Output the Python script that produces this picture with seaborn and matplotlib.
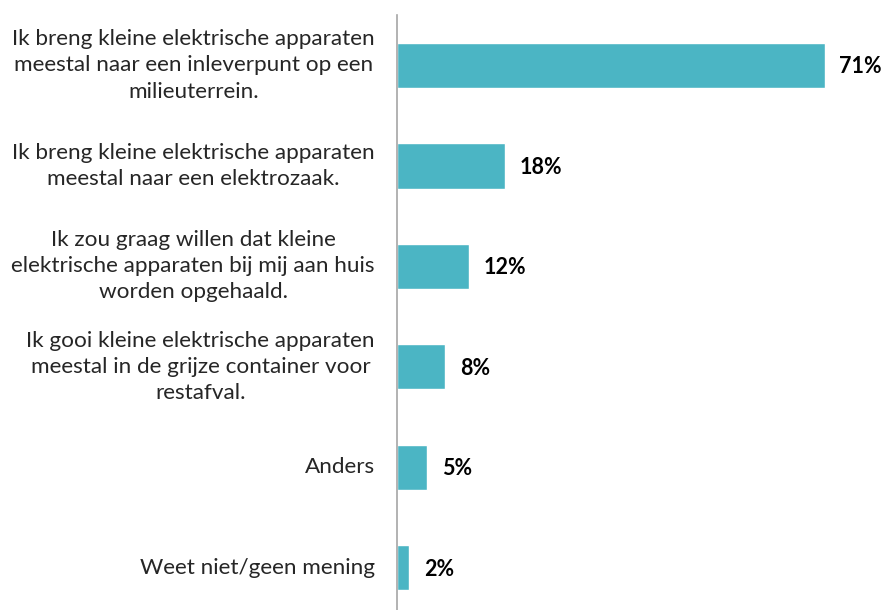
import matplotlib
matplotlib.use("Agg")
import matplotlib.pyplot as plt
import seaborn as sns
import pandas as pd

categorieen = [
    "Ik breng kleine elektrische apparaten\nmeestal naar een inleverpunt op een\nmilieuterrein.",
    "Ik breng kleine elektrische apparaten\nmeestal naar een elektrozaak.",
    "Ik zou graag willen dat kleine\nelektrische apparaten bij mij aan huis\nworden opgehaald.",
    "Ik gooi kleine elektrische apparaten\nmeestal in de grijze container voor\nrestafval.",
    "Anders",
    "Weet niet/geen mening",
]
percentages = [71, 18, 12, 8, 5, 2]

df = pd.DataFrame({"antwoord": categorieen, "pct": percentages})

sns.set_style("white")
plt.rcParams["font.family"] = ["Lato", "DejaVu Sans"]

fig = plt.figure(figsize=(8.85, 6.10), dpi=100)
ax = fig.add_axes([0.4486, 0.0, 0.5514, 0.975])

sns.barplot(data=df, x="pct", y="antwoord", color="#4BB5C4", width=0.45,
            saturation=1, ax=ax)

for i, v in enumerate(percentages):
    ax.annotate(f"{v}%", xy=(v, i), xytext=(10.5, -1), textcoords="offset points",
                va="center", ha="left", fontsize=15.5, fontweight="bold",
                color="black")

ax.set_xlim(0, 81)
ax.set_ylim(5.42, -0.5)
ax.set_xlabel("")
ax.set_ylabel("")
ax.set_xticks([])
sns.despine(ax=ax, top=True, right=True, bottom=True, left=False)
ax.spines["left"].set_color("#A6A6A6")
ax.spines["left"].set_linewidth(1.2)
ax.tick_params(axis="y", length=0, pad=16, labelsize=16.2)
for lbl in ax.get_yticklabels():
    lbl.set_multialignment("center")
    lbl.set_linespacing(1.38)
    lbl.set_verticalalignment("center")

fig.savefig("out.png", dpi=100)
